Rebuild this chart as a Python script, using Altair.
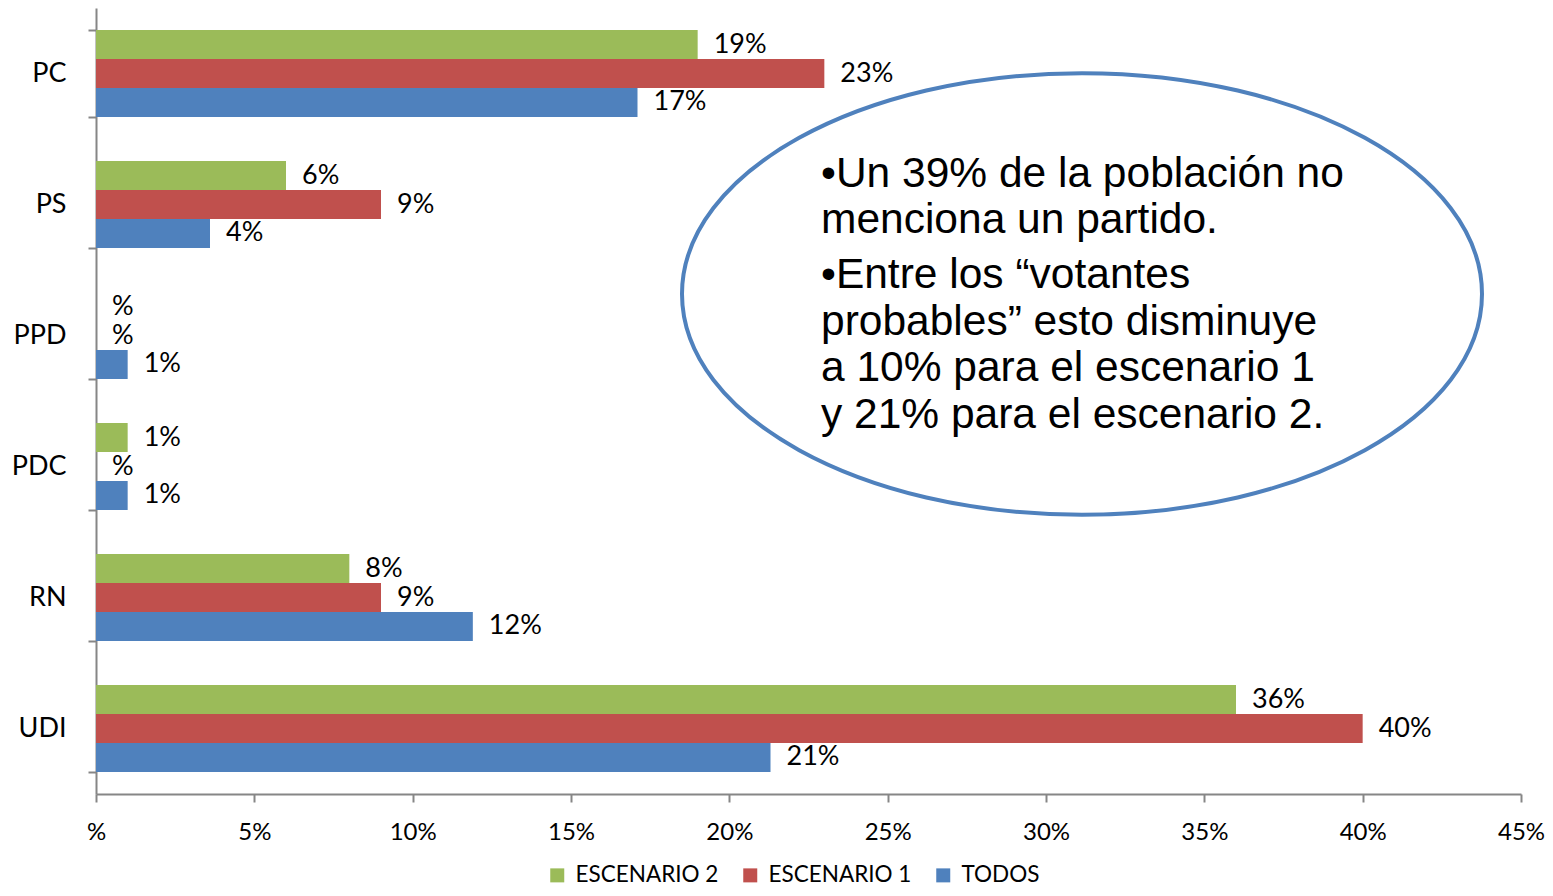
import altair as alt
import pandas as pd

categories = ["PC", "PS", "PPD", "PDC", "RN", "UDI"]
series = ["ESCENARIO 2", "ESCENARIO 1", "TODOS"]
colors = ["#9BBB59", "#C0504D", "#4F81BD"]

esc2 = [19.0, 6.0, 0.0, 1.0, 8.0, 36.0]
esc1 = [23.0, 9.0, 0.0, 0.0, 9.0, 40.0]
todos = [17.1, 3.6, 1.0, 1.0, 11.9, 21.3]

esc2_labels = ["19%", "6%", "%", "1%", "8%", "36%"]
esc1_labels = ["23%", "9%", "%", "%", "9%", "40%"]
todos_labels = ["17%", "4%", "1%", "1%", "12%", "21%"]

x_ticks = [0, 5, 10, 15, 20, 25, 30, 35, 40, 45]

note_p1 = ["•Un 39% de la población no", "menciona un partido."]
note_p2 = ["•Entre los “votantes", "probables” esto disminuye",
           "a 10% para el escenario 1", "y 21% para el escenario 2."]

rows = []
for s, vals, labs in zip(series, [esc2, esc1, todos], [esc2_labels, esc1_labels, todos_labels]):
    for c, v, l in zip(categories, vals, labs):
        rows.append({"partido": c, "serie": s, "valor": v, "etiqueta": l})
df = pd.DataFrame(rows)

FONT = "Lato"
GRAY = "#868686"

y_enc = alt.Y("partido:N", sort=categories,
              scale=alt.Scale(paddingInner=0.336, paddingOuter=0.168),
              axis=alt.Axis(title=None, tickBand="extent", labelFontSize=27, labelFont=FONT,
                            labelColor="black", domainColor=GRAY, tickColor=GRAY,
                            domainWidth=2, tickWidth=2, tickSize=8, labelPadding=22))
yoff = alt.YOffset("serie:N", sort=series, scale=alt.Scale(paddingInner=0, paddingOuter=0))

bars = alt.Chart(df).mark_bar().encode(
    y=y_enc,
    yOffset=yoff,
    x=alt.X("valor:Q", scale=alt.Scale(domain=[0, 45], nice=False),
            axis=alt.Axis(title=None, values=x_ticks, grid=False, labelFlush=False,
                          labelExpr="datum.value == 0 ? '%' : datum.value + '%'",
                          labelFontSize=24, labelFont=FONT, labelColor="black",
                          domainColor=GRAY, tickColor=GRAY, domainWidth=2, tickWidth=2,
                          tickSize=8, labelPadding=18)),
    color=alt.Color("serie:N", scale=alt.Scale(domain=series, range=colors),
                    legend=alt.Legend(title=None, orient="none", direction="horizontal",
                                      legendX=450, legendY=856, symbolType="square",
                                      symbolSize=196, symbolStrokeWidth=0,
                                      labelFontSize=22.5, labelFont=FONT, labelColor="black",
                                      columnPadding=20, labelOffset=7, padding=0)),
)

labels = alt.Chart(df).mark_text(align="left", baseline="middle", dx=16,
                                 fontSize=27, font=FONT, color="black").encode(
    y=alt.Y("partido:N", sort=categories),
    yOffset=alt.YOffset("serie:N", sort=series),
    x="valor:Q",
    text="etiqueta:N",
)

ellipse = alt.Chart(pd.DataFrame({"k": [0]})).mark_point(
    shape="M-1,0A1,0.552,0,1,1,1,0A1,0.552,0,1,1,-1,0Z",
    size=800 ** 2, filled=False, stroke="#4F81BD", strokeWidth=4, opacity=1,
).encode(x=alt.value(986), y=alt.value(286))

note1 = alt.Chart(pd.DataFrame({"k": [0]})).mark_text(
    text=note_p1, align="left", baseline="alphabetic", font="Liberation Sans",
    fontSize=42.5, lineHeight=46, color="black",
).encode(x=alt.value(725), y=alt.value(179))

note2 = alt.Chart(pd.DataFrame({"k": [0]})).mark_text(
    text=note_p2, align="left", baseline="alphabetic", font="Liberation Sans",
    fontSize=42.5, lineHeight=46.5, color="black",
).encode(x=alt.value(725), y=alt.value(280))

chart = alt.layer(bars, labels, ellipse, note1, note2).properties(
    width=1425, height=786,
    autosize=alt.AutoSizeParams(type="none"),
    padding={"left": 88, "top": 0, "right": 24, "bottom": 94},
).configure_view(stroke=None)

chart.save("out.html", embed_options={"renderer": "svg", "actions": False})
